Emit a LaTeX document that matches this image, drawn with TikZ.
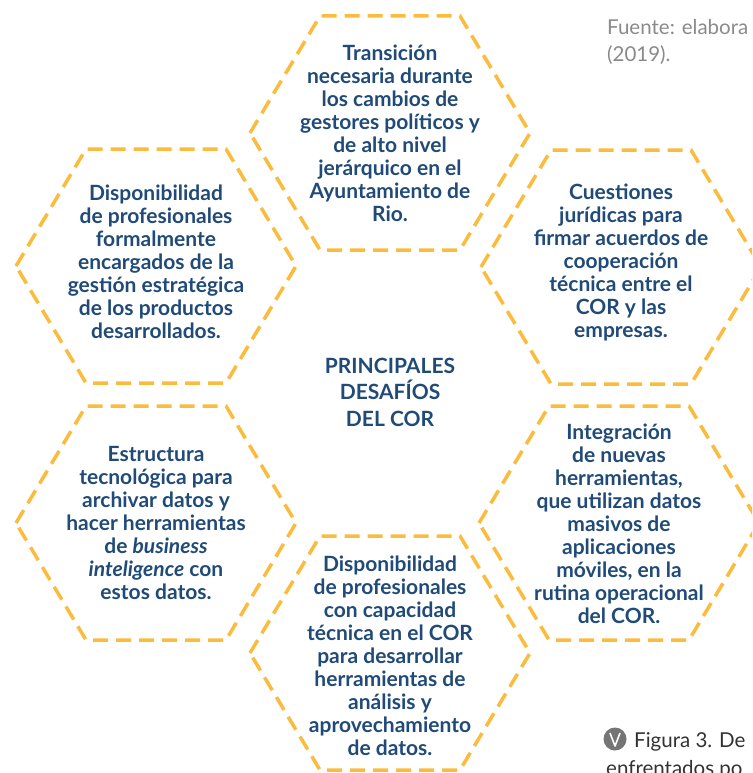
\documentclass[tikz,border=0pt]{standalone}
\usepackage{fontspec}
\setmainfont{Lato}
\definecolor{cor_blue}{RGB}{32, 74, 120}
\definecolor{cor_gold}{RGB}{251, 187, 60}
\definecolor{cor_gray}{RGB}{138, 138, 138}
\definecolor{cor_dark}{RGB}{50, 50, 50}
\usetikzlibrary{positioning}

\begin{document}
\begin{tikzpicture}[x=1pt, y=-1pt,
      txt/.style={align=center, text=cor_blue, inner sep=0pt,
                  font=\fontsize{21}{23}\selectfont\bfseries},
      hexline/.style={draw=cor_gold, line width=3.5pt,
                      dash pattern=on 15pt off 8pt},
      note/.style={anchor=base west, inner sep=0pt,
                   font=\fontsize{20.5}{27}\selectfont}]
      \path[use as bounding box, clip] (0,0) rectangle (752,773);
      % Desafíos
      \node[txt] (top) at (390,133)
        {Transición\\necesaria durante\\los cambios de\\gestores políticos y\\de alto nivel\\jerárquico en el\\Ayuntamiento de\\Rio.};
      \node[txt] (lt) at (156,262)
        {Disponibilidad\\de profesionales\\formalmente\\encargados de la\\gestión estratégica\\de los productos\\desarrollados.};
      \node[txt] (rt) at (621,262)
        {Cuestiones\\jurídicas para\\firmar acuerdos de\\cooperación\\técnica entre el\\COR y las\\empresas.};
      \node[txt] (lb) at (156,523)
        {Estructura\\tecnológica para\\archivar datos y\\hacer herramientas\\de \textit{business}\\\textit{inteligence} con\\estos datos.};
      \node[txt] (rb) at (619,524)
        {Integración\\de nuevas\\herramientas,\\que utilizan datos\\masivos de\\aplicaciones\\móviles, en la\\rutina operacional\\del COR.};
      \node[txt] (bot) at (390,656)
        {Disponibilidad\\de profesionales\\con capacidad\\técnica en el COR\\para desarrollar\\herramientas de\\análisis y\\aprovechamiento\\de datos.};
      % Centro
      \node[txt, font=\fontsize{21}{26.5}\selectfont\bfseries] (title) at (390,392)
        {PRINCIPALES\\DESAFÍOS\\DEL COR};
      % Hexágonos
      \foreach \h/\c in {top/{390,133}, lt/{156,266}, rt/{621,267},
                         lb/{156,523}, rb/{619,523}, bot/{390,653}}
        \draw[hexline] (\c) +(-140,0) -- +(-70,-117) -- +(70,-117)
          -- +(140,0) -- +(70,117) -- +(-70,117) -- cycle;
      % Texto de la página
      \node[note, text=cor_gray] (src) at (607,35) {Fuente: elabora};
      \node[note, text=cor_gray, below=27pt of src.base west, anchor=base west] (year) {(2019).};
      \node[circle, fill=cor_gray!85!black, minimum size=23pt, inner sep=0pt] (icon) at (615,739) {};
      \draw[white, line width=1.6pt, line join=round]
        ([shift={(-5,-6)}]icon.center) -- ([shift={(0,7)}]icon.center) -- ([shift={(5,-6)}]icon.center);
      \node[note, text=cor_dark] (fig) at (634,747) {Figura 3. De};
      \node[note, text=cor_dark] (fig2) at (606,775) {enfrentados po};
    \end{tikzpicture}
\end{document}
